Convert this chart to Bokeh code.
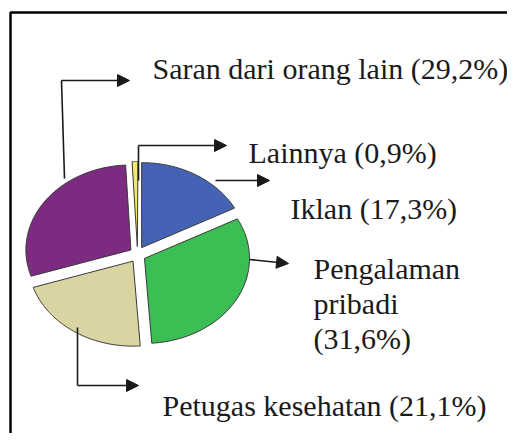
import numpy as np
from bokeh.plotting import figure
from bokeh.models import Range1d, Arrow, NormalHead
from bokeh.core.properties import value
from bokeh.embed import file_html
from bokeh.resources import INLINE

# ---- data ----
categories = ["Iklan", "Pengalaman pribadi", "Petugas kesehatan", "Saran dari orang lain", "Lainnya"]
percentages = [17.3, 31.6, 21.1, 29.2, 0.9]
colors = ["#4563B4", "#3BBF55", "#D9D4A2", "#7D2B80", "#F2E86C"]

def fmt(v):
    return f"({v:.1f}%)".replace(".", ",")

label_lines = {
    "Iklan": [f"Iklan {fmt(17.3)}"],
    "Pengalaman pribadi": ["Pengalaman", "pribadi", fmt(31.6)],
    "Petugas kesehatan": [f"Petugas kesehatan {fmt(21.1)}"],
    "Saran dari orang lain": [f"Saran dari orang lain {fmt(29.2)}"],
    "Lainnya": [f"Lainnya {fmt(0.9)}"],
}
label_pos = {  # left x, first baseline y (picture px)
    "Iklan": (290, 208),
    "Pengalaman pribadi": (313, 268),
    "Petugas kesehatan": (162, 405),
    "Saran dari orang lain": (152, 68),
    "Lainnya": (248, 152),
}
line_gap = 35

W, H = 507, 433
p = figure(width=W, height=H, output_backend="svg", toolbar_location=None,
           x_range=Range1d(0, W), y_range=Range1d(H, 0),
           min_border=0)
p.axis.visible = False
p.grid.visible = False
p.outline_line_color = None
p.background_fill_color = "white"
p.border_fill_color = "white"

# frame (top and left edges visible)
p.line([10, 10, 515], [445, 12, 12], line_color="black", line_width=2.5)

# ---- exploded elliptical pie ----
cx, cy, rx, ry, ex = 137, 254, 105, 85, 8
start = 90.0
xs, ys = [], []
for v in percentages:
    a0 = start
    a1 = start - 3.6 * v
    mid = np.radians((a0 + a1) / 2)
    dx, dy = ex * np.cos(mid), -ex * np.sin(mid)
    t = np.radians(np.linspace(a0, a1, 80))
    px = np.concatenate([[cx + dx], cx + dx + rx * np.cos(t)])
    py = np.concatenate([[cy + dy], cy + dy - ry * np.sin(t)])
    xs.append(px.tolist())
    ys.append(py.tolist())
    start = a1
p.patches(xs, ys, fill_color=colors, line_color="#3a3a3a", line_width=1)

# ---- connectors ----
lc = "#1a1a1a"
p.line([64, 61], [178, 80], line_color=lc, line_width=1.6)
p.line([138, 138], [180, 145], line_color=lc, line_width=1.6)
p.line([77, 77], [327, 385], line_color=lc, line_width=1.6)
arrows = [((61, 80), (129, 80)), ((138, 145), (226, 145)), ((215, 180), (269, 180)),
          ((249, 259), (288, 263)), ((77, 385), (138, 385))]
for (x0, y0), (x1, y1) in arrows:
    p.add_layout(Arrow(end=NormalHead(size=12, fill_color=lc, line_color=lc, line_width=1),
                       x_start=x0, y_start=y0, x_end=x1, y_end=y1,
                       line_color=lc, line_width=1.6))

# ---- labels ----
for c in categories:
    x0, y0 = label_pos[c]
    lines = label_lines[c]
    p.text(x=[x0] * len(lines), y=[y0 + i * line_gap for i in range(len(lines))], text=lines,
           text_font=value("Liberation Serif"), text_font_size="30px",
           text_color="#1a1a1a", text_baseline="alphabetic", text_align="left")

open("out.html", "w").write(file_html(p, INLINE))
